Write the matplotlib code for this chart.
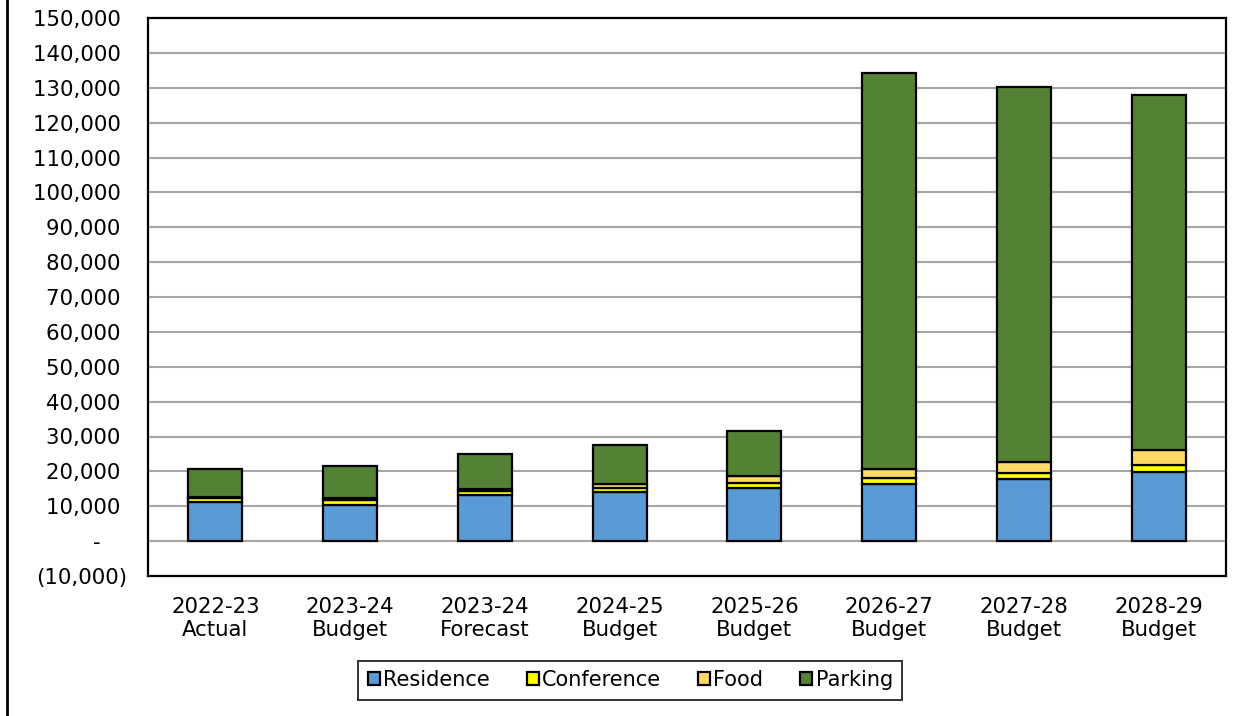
import numpy as np
import matplotlib.pyplot as plt
from matplotlib.lines import Line2D
from matplotlib.ticker import FuncFormatter, MultipleLocator

# dane
categories = ["2022-23\nActual", "2023-24\nBudget", "2023-24\nForecast", "2024-25\nBudget",
              "2025-26\nBudget", "2026-27\nBudget", "2027-28\nBudget", "2028-29\nBudget"]
residence = [11300, 10500, 13200, 14000, 15100, 16300, 17700, 19900]
conference = [1200, 1300, 1200, 1100, 1600, 1700, 1900, 1900]
food = [200, 500, 600, 1400, 1900, 2800, 3100, 4300]
parking = [7900, 9200, 9900, 11200, 12900, 113400, 107500, 101800]

series = [("Residence", residence, "#5B9BD5"),
          ("Conference", conference, "#FFFF00"),
          ("Food", food, "#FFD966"),
          ("Parking", parking, "#548235")]

plt.rcParams["font.family"] = ["DejaVu Sans"]
plt.rcParams["font.size"] = 15.3

fig = plt.figure(figsize=(12.53, 7.16), dpi=100)
ax = fig.add_axes([148 / 1253, 1 - 576 / 716, (1226 - 148) / 1253, (576 - 18) / 716])

x = np.arange(len(categories))
bottom = np.zeros(len(categories))
for name, vals, color in series:
    ax.bar(x, vals, width=0.4, bottom=bottom, color=color, edgecolor="black",
           linewidth=1.6, label=name, zorder=3)
    bottom += np.array(vals)

ax.set_xlim(-0.5, len(categories) - 0.5)
ax.set_ylim(-10000, 150000)
ax.yaxis.set_major_locator(MultipleLocator(10000))


# format ksiegowy: (ujemne), "-" dla zera
def fmt(v, pos):
    if abs(v) < 1:
        return "-    "
    if v < 0:
        return "({:,.0f})".format(-v)
    return "{:,.0f} ".format(v)


ax.yaxis.set_major_formatter(FuncFormatter(fmt))
ax.set_xticks(x)
ax.set_xticklabels(categories, linespacing=1.2)
ax.tick_params(axis="both", length=0, labelsize=15.3, colors="black")
ax.tick_params(axis="x", pad=15)
ax.tick_params(axis="y", pad=15)

ax.grid(axis="y", color="#a6a6a6", linewidth=1.5, zorder=0)
for s in ax.spines.values():
    s.set_linewidth(1.6)
    s.set_color("black")

leg = fig.legend(loc="center", bbox_to_anchor=(0.503, 0.050), ncol=4,
                 frameon=True, fancybox=False, edgecolor="black", fontsize=15,
                 handlelength=0.6, handleheight=0.6, handletextpad=0.15,
                 columnspacing=1.75, borderpad=0.45)
leg.get_frame().set_linewidth(1.4)

# lewa krawedz ramki
fig.add_artist(Line2D([7 / 1253, 7 / 1253], [0, 1], color="black", linewidth=2,
                      transform=fig.transFigure))

fig.savefig("out.png", dpi=100)
